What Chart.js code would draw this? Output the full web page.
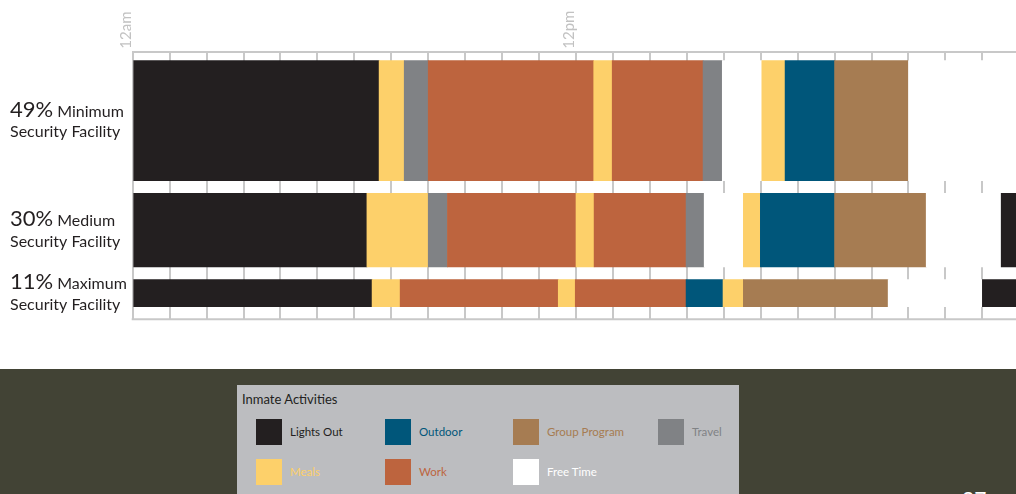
<!DOCTYPE html>
<html><head><meta charset="utf-8">
<script src="https://cdn.jsdelivr.net/npm/chart.js@4.4.1/dist/chart.umd.min.js"></script>
<style>
html,body{margin:0;padding:0;width:1016px;height:494px;overflow:hidden;background:#fff;font-family:Lato,sans-serif;position:relative;}
#wrap{position:absolute;left:0;top:0;width:1040px;height:369px;}
#band{position:absolute;left:0;top:369px;width:1016px;height:125px;background:#424335;}
#legend{position:absolute;left:237px;top:385px;width:502px;height:120px;background:#bcbdc0;}
#legend .title{position:absolute;left:5px;top:6px;font-size:13px;line-height:16px;color:#231f20;white-space:nowrap;}
#legend .sw{position:absolute;width:26px;height:26px;}
#legend .lb{position:absolute;height:26px;line-height:26px;font-size:11.5px;white-space:nowrap;}
#page{position:absolute;left:962px;top:488px;font-size:21px;line-height:21px;color:#fff;}
</style></head>
<body>
<div id="wrap"><canvas id="c"></canvas></div>
<div id="band"></div>
<div id="legend"><div class="title">Inmate Activities</div></div>
<div id="page">27</div>
<script>
// ---- data ----
const activities = ['Lights Out', 'Outdoor', 'Group Program', 'Travel', 'Meals', 'Work', 'Free Time'];
const activityColors = ['#231f20', '#00567a', '#a67c52', '#808285', '#fdd06a', '#bd643e', '#ffffff'];
const facilityNames = ['Minimum', 'Medium', 'Maximum'];
const facilityPercents = [49, 30, 11];
const tickHours = [0, 12];
const tickLabels = ['12am', '12pm'];

const minimumBounds = [0, 6.67, 7.35, 8, 12.48, 12.98, 15.44, 15.96, 17.03, 17.66, 19, 21, 24];
const minimumActs = ['Lights Out', 'Meals', 'Travel', 'Work', 'Meals', 'Work', 'Travel', 'Free Time', 'Meals', 'Outdoor', 'Group Program', 'Free Time'];
const mediumBounds = [0, 6.34, 8, 8.52, 12, 12.49, 14.98, 15.47, 16.53, 16.99, 19, 21.48, 23.51, 24];
const mediumActs = ['Lights Out', 'Meals', 'Travel', 'Work', 'Meals', 'Work', 'Travel', 'Free Time', 'Meals', 'Outdoor', 'Group Program', 'Free Time', 'Lights Out'];
const maximumBounds = [0, 6.48, 7.24, 11.52, 11.98, 14.98, 15.98, 16.53, 20.45, 23, 24];
const maximumActs = ['Lights Out', 'Meals', 'Work', 'Meals', 'Work', 'Outdoor', 'Meals', 'Group Program', 'Free Time', 'Lights Out'];

// ---- layout ----
const rowBounds = [minimumBounds, mediumBounds, maximumBounds];
const rowActs = [minimumActs, mediumActs, maximumActs];
const TOP_GAP = 3.6, ROW_GAP = 5.2, PLOT_H = 267.6;
const centers = [];
let acc = TOP_GAP;
facilityPercents.forEach(p => { centers.push(acc + p / 2); acc += p + ROW_GAP; });
const yTotal = acc;
const unitPx = PLOT_H / yTotal;
const colorOf = a => activityColors[activities.indexOf(a)];

const datasets = facilityNames.map((name, r) => ({
  label: name,
  data: rowActs[r].map((a, i) => ({ x: [rowBounds[r][i], rowBounds[r][i + 1]], y: centers[r] })),
  backgroundColor: rowActs[r].map(colorOf),
  barThickness: facilityPercents[r] * unitPx,
  borderWidth: 0,
  borderSkipped: false
}));

const rowLabelPlugin = {
  id: 'rowLabels',
  afterDraw(chart) {
    const ctx = chart.ctx, ys = chart.scales.y;
    ctx.save();
    ctx.fillStyle = '#231f20';
    ctx.textAlign = 'left';
    ctx.textBaseline = 'alphabetic';
    facilityNames.forEach((name, r) => {
      const cy = ys.getPixelForValue(centers[r]);
      const pct = facilityPercents[r] + '%';
      ctx.font = '22px Lato';
      ctx.fillText(pct, 10, cy - 4);
      const w = ctx.measureText(pct).width;
      ctx.font = '16px Lato';
      ctx.fillText(' ' + name, 10 + w, cy - 4);
      ctx.fillText('Security Facility', 10, cy + 16.5);
    });
    ctx.restore();
  }
};
const bottomLinePlugin = {
  id: 'bottomLine',
  afterDatasetsDraw(chart) {
    const ctx = chart.ctx, a = chart.chartArea;
    ctx.save();
    ctx.strokeStyle = '#c8c8c8';
    ctx.lineWidth = 2;
    ctx.beginPath();
    ctx.moveTo(a.left - 1, a.bottom);
    ctx.lineTo(a.right, a.bottom);
    ctx.stroke();
    ctx.restore();
  }
};

new Chart(document.getElementById('c'), {
  type: 'bar',
  data: { datasets },
  options: {
    indexAxis: 'y',
    responsive: true,
    maintainAspectRatio: false,
    animation: false,
    layout: { padding: { left: 132.7, right: 20.7, top: 0, bottom: 49.7 } },
    plugins: { legend: { display: false }, tooltip: { enabled: false } },
    scales: {
      x: {
        type: 'linear', position: 'top', min: 0, max: 24,
        ticks: {
          stepSize: 1, autoSkip: false, minRotation: 90, maxRotation: 90, padding: 3, labelOffset: 11.5,
          color: '#c2c2c2', font: { family: 'Lato', size: 15 },
          callback: v => { const i = tickHours.indexOf(v); return i >= 0 ? tickLabels[i] : ''; }
        },
        grid: { color: '#c8c8c8', lineWidth: 2, drawTicks: false },
        border: { color: '#c8c8c8', width: 2 },
        afterFit: s => { s.height = 51.7; }
      },
      y: { type: 'linear', display: false, offset: false, grid: { offset: false }, min: 0, max: yTotal, reverse: true, stacked: true }
    }
  },
  plugins: [rowLabelPlugin, bottomLinePlugin]
});

// ---- legend ----
const legendCols = [19, 148, 276, 421];
const legendRows = [34, 74];
const legendEl = document.getElementById('legend');
activities.forEach((a, i) => {
  const x = legendCols[i % 4], y = legendRows[Math.floor(i / 4)];
  const sw = document.createElement('div');
  sw.className = 'sw';
  sw.style.left = x + 'px'; sw.style.top = y + 'px';
  sw.style.background = activityColors[i];
  const lb = document.createElement('div');
  lb.className = 'lb';
  lb.style.left = (x + 34) + 'px'; lb.style.top = y + 'px';
  lb.style.color = activityColors[i];
  lb.textContent = a;
  legendEl.appendChild(sw); legendEl.appendChild(lb);
});
</script>
</body></html>
